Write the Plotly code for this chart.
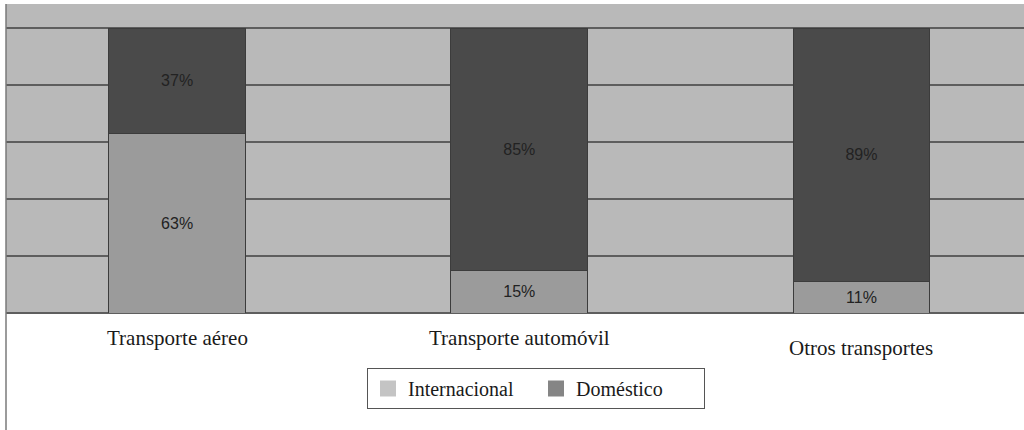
import plotly.graph_objects as go

categories = ["Transporte aéreo", "Transporte automóvil", "Otros transportes"]
internacional = [63, 15, 11]
domestico = [37, 85, 89]
label_offsets = [0, 0, 10]  # px downward shift of category labels
legend_names = ["Internacional", "Doméstico"]

BG = "#b9b9b9"
C_INT = "#9b9b9b"
C_DOM = "#4a4a4a"
SW_INT = "#c4c4c4"
SW_DOM = "#858585"
GRID = "#5e5e5e"
EDGE = "#3c3c3c"

x = list(range(len(categories)))

fig = go.Figure()
fig.add_trace(go.Bar(
    x=x, y=internacional, width=0.4, marker=dict(color=C_INT, line=dict(color=EDGE, width=1)),
    text=[f"{v}%" for v in internacional], textposition="inside", insidetextanchor="middle",
    textfont=dict(family="Liberation Sans, Arial", size=16, color="#222222"),
    showlegend=False, hoverinfo="skip",
))
fig.add_trace(go.Bar(
    x=x, y=domestico, width=0.4, marker=dict(color=C_DOM, line=dict(color=EDGE, width=1)),
    text=[f"{v}%" for v in domestico], textposition="inside", insidetextanchor="middle",
    textfont=dict(family="Liberation Sans, Arial", size=16, color="#222222"),
    showlegend=False, hoverinfo="skip",
))
# legend entries
for name, col in zip(legend_names, [SW_INT, SW_DOM]):
    fig.add_trace(go.Scatter(x=[None], y=[None], name=name, mode="markers",
                             marker=dict(color=col, symbol="square", size=16, line=dict(width=0)),
                             showlegend=True))

for xi, lab, off in zip(x, categories, label_offsets):
    fig.add_annotation(x=xi, y=0, xref="x", yref="y", text=lab, showarrow=False,
                       yanchor="top", yshift=-11 - off,
                       font=dict(family="Liberation Serif, Times New Roman", size=21, color="#1a1a1a"))

fig.add_shape(type="line", xref="paper", yref="paper", x0=0, x1=0, y0=1, y1=-0.6,
              line=dict(color="#7a7a7a", width=1.5))

fig.update_layout(
    width=1024, height=430,
    margin=dict(l=6, r=0, t=4, b=117),
    barmode="stack",
    plot_bgcolor=BG, paper_bgcolor="white",
    uniformtext=dict(minsize=8, mode="show"),
    xaxis=dict(range=[-0.5, 2.475], showticklabels=False, showgrid=False, zeroline=False,
               showline=False, fixedrange=True),
    yaxis=dict(range=[0, 108.42], tickvals=[0, 20, 40, 60, 80, 100], showticklabels=False,
               showgrid=True, gridcolor=GRID, gridwidth=1.5, zeroline=True, zerolinecolor=GRID,
               zerolinewidth=1.5, showline=False),
    legend=dict(orientation="h", xref="container", yref="container", x=367/1024, y=1-368/430,
                xanchor="left", yanchor="top", bordercolor="#555555", borderwidth=1,
                bgcolor="white", entrywidth=123, entrywidthmode="pixels", traceorder="normal",
                font=dict(family="Liberation Serif, Times New Roman", size=20, color="#1a1a1a"),
                itemsizing="trace"),
    showlegend=True,
)

fig.write_html("out.html")
